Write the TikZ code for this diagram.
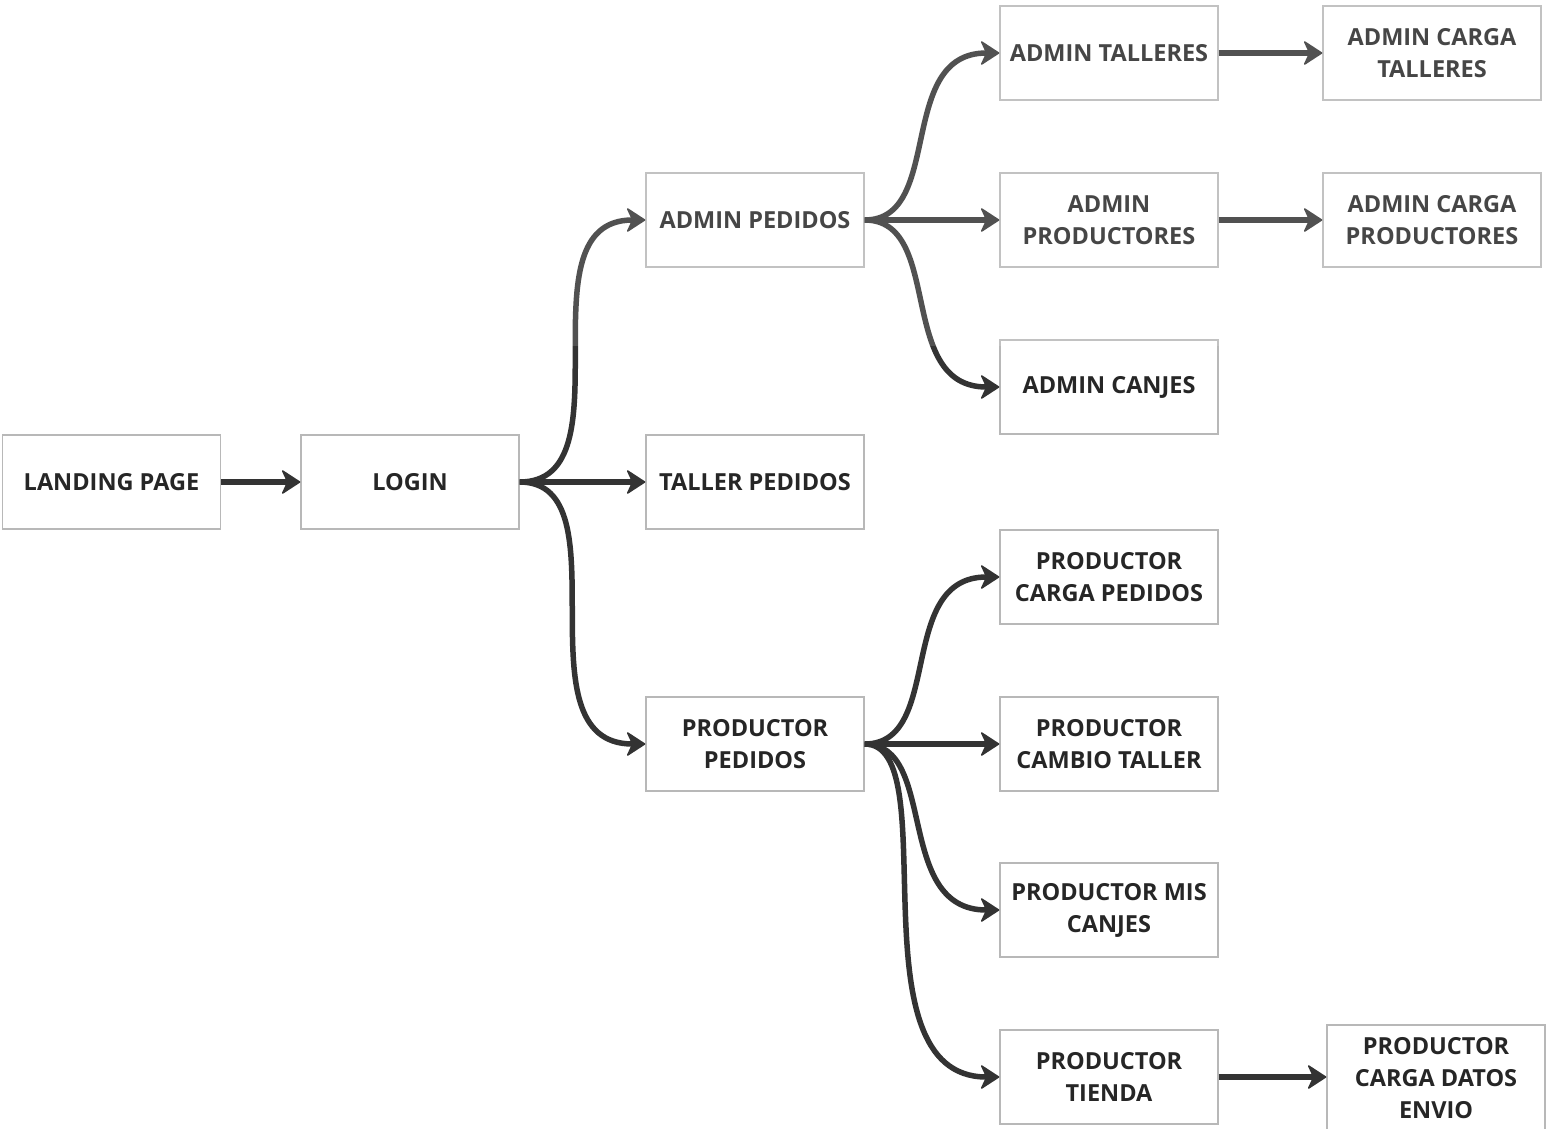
\documentclass[tikz,border=0pt]{standalone}
\usepackage{fontspec}
\setmainfont{Open Sans}
\usetikzlibrary{arrows.meta,calc}
\definecolor{dk}{HTML}{333333}
\definecolor{bd}{HTML}{B8B8B8}
\definecolor{tdk}{HTML}{262626}
\begin{document}
\begin{tikzpicture}[x=1pt,y=-1pt,
  box/.style={draw=bd, line width=1.3pt, minimum width=218pt, minimum height=94pt,
    inner sep=0pt, align=center, fill=white, text=tdk,
    font=\fontsize{23.5}{32}\selectfont\bfseries},
  arr/.style={line width=5.5pt, draw=dk, -{Stealth[length=20pt,width=26pt,inset=6pt,line width=1.5pt,round]}},
  curv/.style 2 args={to path={let \p1=(\tikztostart), \p2=(\tikztotarget) in
     .. controls ({\x1+#1},\y1) and ({\x2-#2},\y2) .. (\tikztotarget)}}
]
\useasboundingbox[fill=white] (0,0) rectangle (1549,1128);

\node[box] (landing)  at (111.5,482) {LANDING PAGE};
\node[box] (login)    at (410,482)   {LOGIN};
\node[box] (adminped) at (755,220)   {ADMIN PEDIDOS};
\node[box] (taller)   at (755,482)   {TALLER PEDIDOS};
\node[box] (prodped)  at (755,744)   {PRODUCTOR\\PEDIDOS};

\node[box] (admtall)  at (1109,53)   {ADMIN TALLERES};
\node[box] (admprod)  at (1109,220)  {ADMIN\\PRODUCTORES};
\node[box] (admcanj)  at (1109,387)  {ADMIN CANJES};
\node[box] (pcarga)   at (1109,577)  {PRODUCTOR\\CARGA PEDIDOS};
\node[box] (pcambio)  at (1109,744)  {PRODUCTOR\\CAMBIO TALLER};
\node[box] (pmis)     at (1109,910)  {PRODUCTOR MIS\\CANJES};
\node[box] (ptienda)  at (1109,1077) {PRODUCTOR\\TIENDA};

\node[box] (acargat)  at (1432,53)   {ADMIN CARGA\\TALLERES};
\node[box] (acargap)  at (1432,220)  {ADMIN CARGA\\PRODUCTORES};
\node[box, minimum height=106pt] (pdatos) at (1436,1078) {PRODUCTOR\\CARGA DATOS\\ENVIO};

\draw[arr] (landing.east) -- (login.west);
\draw[arr] (login.east) to[curv={112}{127}] (adminped.west);
\draw[arr] (login.east) -- (taller.west);
\draw[arr] (login.east) to[curv={107}{130}] (prodped.west);

\draw[arr] (adminped.east) to[curv={80}{104}] (admtall.west);
\draw[arr] (adminped.east) -- (admprod.west);
\draw[arr] (adminped.east) to[curv={80}{104}] (admcanj.west);

\draw[arr] (prodped.east) to[curv={80}{104}] (pcarga.west);
\draw[arr] (prodped.east) -- (pcambio.west);
\draw[arr] (prodped.east) to[curv={74}{106}] (pmis.west);
\draw[arr] (prodped.east) to[curv={83}{150}] (ptienda.west);

\draw[arr] (admtall.east) -- (acargat.west);
\draw[arr] (admprod.east) -- (acargap.west);
\draw[arr] (ptienda.east) -- (ptienda.east -| pdatos.west);

% lighter upper band, as in the reference
\fill[white, fill opacity=0.15] (0,0) rectangle (1549,346);
\end{tikzpicture}
\end{document}
